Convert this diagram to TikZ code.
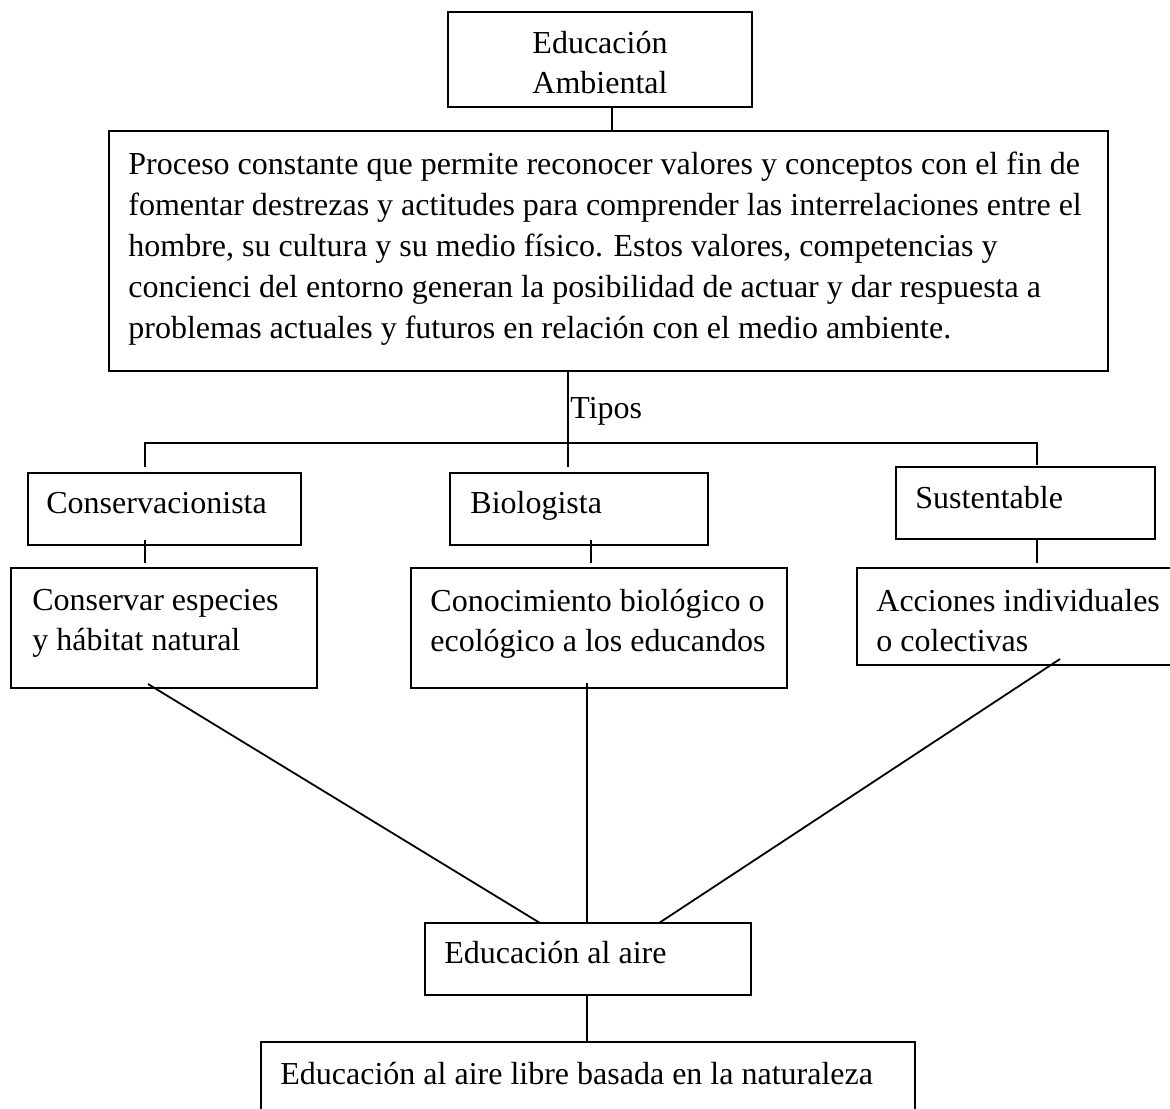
\documentclass[tikz,border=0pt]{standalone}
\usepackage{fontspec}
\setmainfont{Liberation Serif}
\tikzset{
	caja/.style = {draw, line width = 0.9pt, rectangle, anchor = north west, inner sep = 0pt, outer sep = 0pt},
	texto/.style = {inner sep = 0pt, font = \fontsize{16pt}{20pt}\selectfont},
	linea/.style = {line width = 0.9pt}
}
\begin{document}
\begin{tikzpicture}[x = 0.5pt, y = -0.5pt]
		\useasboundingbox (0, 0) rectangle (1170, 1108);
		%%%%%%%%%%%%%
		\node[caja, minimum width = 152pt, minimum height = 47.5pt] (ea) at (448, 12) {};
		\node[caja, minimum width = 499.5pt, minimum height = 120pt] (proc) at (109, 131) {};
		\node[caja, minimum width = 136.5pt, minimum height = 36pt] (cons) at (28, 473) {};
		\node[caja, minimum width = 129pt, minimum height = 36pt] (bio) at (450, 473) {};
		\node[caja, minimum width = 129.5pt, minimum height = 36pt] (sus) at (896, 467) {};
		\node[caja, minimum width = 153pt, minimum height = 60pt] (cesp) at (11, 568) {};
		\node[caja, minimum width = 188pt, minimum height = 60pt] (cbio) at (411, 568) {};
		\node[caja, minimum width = 160pt, minimum height = 48.5pt] (acc) at (857, 568) {};
		\node[caja, minimum width = 163pt, minimum height = 36pt] (aire) at (425, 923) {};
		\node[caja, minimum width = 327pt, minimum height = 45pt] (libre) at (261, 1042) {};
		%%%%%%%%%%%%%
		\node[texto, anchor = north, align = center] (ea-t) at (600, 31) {Educación\\Ambiental};
		\node[texto, anchor = north west, align = left, font = \fontsize{16pt}{20.5pt}\selectfont] (proc-t) at (128, 152)
			{Proceso constante que permite reconocer valores y conceptos con el fin de\\
			fomentar destrezas y actitudes para comprender las interrelaciones entre el\\
			hombre, su cultura y su medio físico. Estos valores, competencias y\\
			concienci del entorno generan la posibilidad de actuar y dar respuesta a\\
			problemas actuales y futuros en relación con el medio ambiente.};
		\node[texto, anchor = base west] (tipos) at (570, 418) {Tipos};
		\node[texto, anchor = base west] (cons-t) at (46, 513) {Conservacionista};
		\node[texto, anchor = base west] (bio-t) at (470, 513) {Biologista};
		\node[texto, anchor = base west] (sus-t) at (915, 508) {Sustentable};
		\node[texto, anchor = north west, align = left] (cesp-t) at (32, 589) {Conservar especies\\y hábitat natural};
		\node[texto, anchor = north west, align = left] (cbio-t) at (430, 589) {Conocimiento biológico o\\ecológico a los educandos};
		\node[texto, anchor = north west, align = left] (acc-t) at (876, 589) {Acciones individuales\\o colectivas};
		\node[texto, anchor = base west] (aire-t) at (444, 963) {Educación al aire};
		\node[texto, anchor = base west] (libre-t) at (280, 1084) {Educación al aire libre basada en la naturaleza};
		%%%%%%%%%%%%%
		\coordinate (x1) at (612, 0);
		\coordinate (x2) at (568, 0);
		\coordinate (bl) at (145, 443); \coordinate (br) at (1037, 443);
		\coordinate (x3) at (591, 0);
		\coordinate (x4) at (587, 0);
		\coordinate (d1) at (148, 684); \coordinate (d3) at (1060, 659);
		\coordinate (a1) at (540, 0); \coordinate (a3) at (659, 0);
		%%%%%%%%%%%%%
		\draw [linea] (ea.south -| x1) to (proc.north -| x1);
		\draw [linea] (proc.south -| x2) to (568, 467);
		\draw [linea] (145, 467) to (bl) to (br) to (1037, 465);
		\draw [linea] (cons.south -| bl) ++(0, -5) to (145, 563);
		\draw [linea] (bio.south -| x3) ++(0, -5) to (591, 563);
		\draw [linea] (sus.south -| br) to (1037, 563);
		\draw [linea] (d1) to (aire.north -| a1);
		\draw [linea] (cbio.south -| x4) ++(0, -5) to (aire.north -| x4);
		\draw [linea] (d3) to (aire.north -| a3);
		\draw [linea] (aire.south -| x4) to (libre.north -| x4);
\end{tikzpicture}
\end{document}
